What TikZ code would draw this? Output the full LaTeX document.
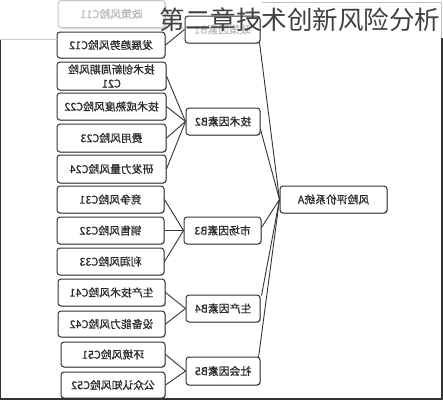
\documentclass[tikz,border=0pt]{standalone}
\usepackage{fontspec}
\usepackage{graphicx}
\newfontfamily\cjk{Noto Sans CJK SC}
\newfontfamily\cjkb[FakeBold=0.8]{Noto Sans CJK SC}
\usetikzlibrary{shadows}
\definecolor{boxline}{HTML}{333333}
\definecolor{txt}{HTML}{2A2A2A}
\newcommand\mirtxt[1]{\reflectbox{#1}}
\tikzset{
  box/.style={draw=boxline, line width=1pt, rounded corners=3pt, fill=white,
    drop shadow={shadow xshift=0.8pt, shadow yshift=-0.8pt, opacity=0.45},
    inner sep=0pt, align=center, text=txt,
    font=\cjkb\fontsize{10.8}{14}\selectfont},
  faded/.style={draw=gray!45, text=gray!55, drop shadow={opacity=0.1}},
  conn/.style={draw=boxline, line width=0.9pt},
  frameline/.style={draw=black!80, line width=1.2pt}
}
\begin{document}
\begin{tikzpicture}[x=1pt,y=-1pt]
\useasboundingbox (0,0) rectangle (443,400);
\fill[white] (0,0) rectangle (443,400);
% C boxes
\node[box, faded, minimum width=107pt, minimum height=27pt] (c11) at (111.5,14) {\mirtxt{政策风险C11}};
\node[box, minimum width=108pt, minimum height=26pt] (c12) at (111,45) {\mirtxt{发展趋势风险C12}};
\node[box, minimum width=109pt, minimum height=28pt] (c21) at (111.5,76) {\mirtxt{技术创新周期风险}\\\mirtxt{C21}};
\node[box, minimum width=109pt, minimum height=27pt] (c22) at (111.5,106.5) {\mirtxt{技术成熟度风险C22}};
\node[box, minimum width=109pt, minimum height=28pt] (c23) at (111.5,138) {\mirtxt{费用风险C23}};
\node[box, minimum width=109pt, minimum height=28pt] (c24) at (111.5,169) {\mirtxt{研发力量风险C24}};
\node[box, minimum width=107pt, minimum height=27pt] (c31) at (110.5,199.5) {\mirtxt{竞争风险C31}};
\node[box, minimum width=107pt, minimum height=27pt] (c32) at (110.5,230.5) {\mirtxt{销售风险C32}};
\node[box, minimum width=107pt, minimum height=27pt] (c33) at (110.5,261.5) {\mirtxt{利润风险C33}};
\node[box, minimum width=107pt, minimum height=27pt] (c41) at (111.5,292.5) {\mirtxt{生产技术风险C41}};
\node[box, minimum width=107pt, minimum height=26pt] (c42) at (111.5,324) {\mirtxt{设备能力风险C42}};
\node[box, minimum width=104pt, minimum height=25pt] (c51) at (113,354.5) {\mirtxt{环境风险C51}};
\node[box, minimum width=104pt, minimum height=26pt] (c52) at (113,385) {\mirtxt{公众认知风险C52}};
% B boxes
\node[box, text=gray!50, minimum width=75pt, minimum height=27pt] (b1) at (222.5,29.5) {\mirtxt{政策因素B1}};
\node[box, minimum width=74pt, minimum height=27pt] (b2) at (223,121.5) {\mirtxt{技术因素B2}};
\node[box, minimum width=77pt, minimum height=27pt] (b3) at (222.5,230.5) {\mirtxt{市场因素B3}};
\node[box, minimum width=74pt, minimum height=27pt] (b4) at (223,308.5) {\mirtxt{生产因素B4}};
\node[box, minimum width=74pt, minimum height=28pt] (b5) at (223,371) {\mirtxt{社会因素B5}};
% A box
\node[box, minimum width=107pt, minimum height=27pt] (a) at (333.5,199.5) {\mirtxt{风险评价系统A}};
% connectors C -> B
\draw[conn, draw=gray!40] (c11.east) -- (b1.west);
\draw[conn] (c12.east) -- (b1.west);
\foreach \c in {c21,c22,c23,c24} \draw[conn] (\c.east) -- (b2.west);
\foreach \c in {c31,c32,c33} \draw[conn] (\c.east) -- (b3.west);
\foreach \c in {c41,c42} \draw[conn] (\c.east) -- (b4.west);
\foreach \c in {c51,c52} \draw[conn] (\c.east) -- (b5.west);
% connectors B -> A
\coordinate (b1o) at ([xshift=-1pt,yshift=1pt]b1.south east);
\coordinate (b2o) at ([yshift=-8pt]b2.east);
\coordinate (b3o) at ([yshift=3pt]b3.east);
\coordinate (b4o) at ([xshift=1pt,yshift=-1pt]b4.north east);
\coordinate (b5o) at ([xshift=-2pt,yshift=-1pt]b5.north east);
\foreach \b in {b1o,b2o,b3o,b4o,b5o} \draw[conn] (\b) -- (a.west);
% frame
\draw[frameline] (0.6,39) -- (0.6,400);
\draw[frameline] (442,38) -- (442,400);
\draw[frameline] (0,399) -- (443,399);
\draw[gray!40, line width=0.6pt] (0,39) -- (57,39);
\draw[gray!50, line width=0.8pt] (262,2) -- (441,2) -- (441,38);
% title
\node[font=\cjk\fontsize{25.5}{28}\selectfont, text=black!75, inner sep=0pt] (title) at (300,20) {第二章技术创新风险分析};
\end{tikzpicture}
\end{document}
